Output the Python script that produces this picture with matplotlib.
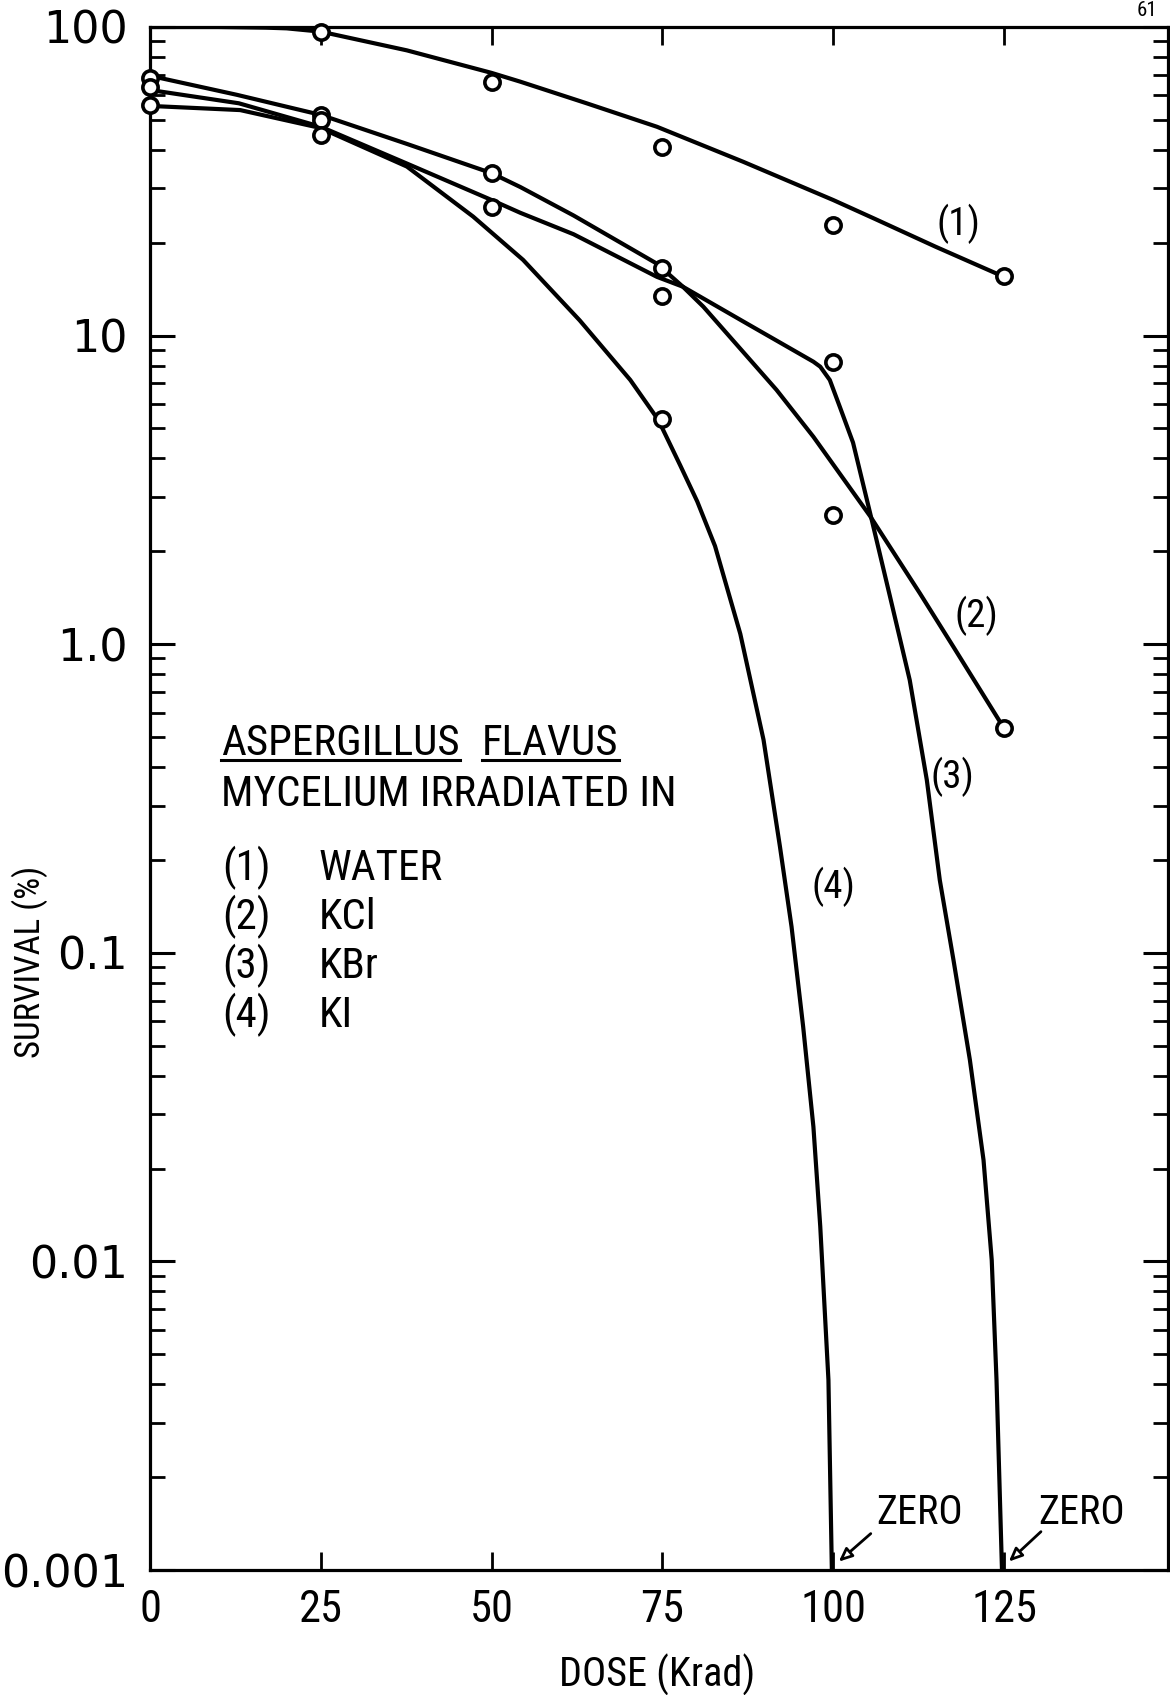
import matplotlib.pyplot as plt
from matplotlib import font_manager
from matplotlib.font_manager import FontProperties
from matplotlib.ticker import LogLocator, NullFormatter
from matplotlib.lines import Line2D


def narrow_font():
    # a narrow sans for the lettering; plain DejaVu Sans if none is installed
    entries = font_manager.fontManager.ttflist
    for f in entries:
        if f.name == 'Liberation Sans Narrow' and f.style == 'normal' and f.weight in (400, 'normal', 'regular'):
            return FontProperties(fname=f.fname), True
    for fam in ['Roboto Condensed', 'Open Sans Condensed', 'Roboto', 'Noto Sans', 'Open Sans', 'DejaVu Sans']:
        for f in entries:
            if (f.name == fam and f.style == 'normal' and f.stretch == 'condensed'
                    and f.weight in (400, 'normal', 'regular')):
                return FontProperties(fname=f.fname), True
    return FontProperties(family='DejaVu Sans'), False


narrow, found = narrow_font()
k = 1.0 if found else 0.88

# fitted survival curves (dose in Krad, survival in %)
water_dose = [0, 10, 17, 20, 25, 37.6, 50, 54.2, 63.9, 74.2, 86.8, 100, 105.9, 115, 125]
water_curve = [100, 100, 99.5, 99, 96.6, 84.0, 71.0, 66.5, 56.6, 47.5, 36.6, 27.5, 24.0, 19.4, 15.5]

kcl_dose = [0, 12.7, 25, 37.6, 50, 54.2, 62, 74.2, 78, 81, 91.7, 97.1, 105.4, 112.7, 117.6, 125]
kcl_curve = [69.5, 60.3, 51.9, 41.8, 33.6, 30.3, 24.5, 17.1, 14.4, 12.4, 6.67, 4.70, 2.6, 1.46, 0.98, 0.534]

kbr_dose = [0, 13, 25, 37.6, 50, 54.2, 62, 74.2, 78, 87.3, 97.1, 98.1, 99.5, 101, 102.9,
            105.4, 108.3, 111.2, 113.7, 115.6, 117.6, 120, 122, 123.2, 123.9, 124.7]
kbr_curve = [62.5, 56.6, 47.5, 36.1, 27.5, 25.0, 21.3, 15.5, 14.4, 10.96, 8.23, 7.93, 7.18, 5.85, 4.5,
             2.66, 1.43, 0.765, 0.363, 0.172, 0.0948, 0.045, 0.0213, 0.0101, 0.00413, 0.001]

ki_dose = [0, 13.2, 24.9, 37.6, 47.3, 54.6, 62.9, 70.3, 74.4, 77.6, 80.1, 82.7, 86.4, 89.8,
           92.2, 93.9, 95.6, 97.1, 98.1, 99.3, 99.8]
ki_curve = [55.5, 53.8, 47.1, 35.3, 24.3, 17.6, 11.2, 7.18, 5.33, 3.8, 2.9, 2.08, 1.08, 0.49,
            0.221, 0.1215, 0.0576, 0.0273, 0.013, 0.00413, 0.001]

# measured points
water_pts_dose = [25, 50, 75, 100, 125]
water_pts = [96.6, 66.5, 40.9, 22.8, 15.6]
kcl_pts_dose = [0, 25, 50, 75, 100, 125]
kcl_pts = [68.2, 51.9, 33.6, 16.5, 2.62, 0.534]
kbr_pts_dose = [0, 25, 50, 75, 100]
kbr_pts = [64.1, 50.0, 26.2, 13.4, 8.2]
ki_pts_dose = [0, 25, 75]
ki_pts = [55.8, 44.7, 5.36]

ytick_vals = [0.001, 0.01, 0.1, 1, 10, 100]
ytick_text = ['0.001', '0.01', '0.1', '1.0', '10', '100']
xtick_vals = [0, 25, 50, 75, 100, 125]

W, H = 1170, 1695
fig = plt.figure(figsize=(W / 100, H / 100), dpi=100)
ax = fig.add_axes([150 / W, 1 - 1570 / H, 1018 / W, 1543 / H])


def fig_xy(px, py):
    return px / W, 1 - py / H


def lettering(size):
    fp = narrow.copy()
    fp.set_size(size * k)
    return fp


for d, v in [(water_dose, water_curve), (kcl_dose, kcl_curve),
             (kbr_dose, kbr_curve), (ki_dose, ki_curve)]:
    ax.plot(d, v, color='black', lw=3.0, solid_capstyle='round', solid_joinstyle='round', zorder=3)

for d, v in [(water_pts_dose, water_pts), (kcl_pts_dose, kcl_pts),
             (kbr_pts_dose, kbr_pts), (ki_pts_dose, ki_pts)]:
    ax.plot(d, v, 'o', ms=11, mfc='white', mec='black', mew=2.6, zorder=4, clip_on=False)

ax.set_yscale('log')
ax.set_ylim(0.001, 100)
ax.set_xlim(0, 149)
ax.set_yticks(ytick_vals, labels=ytick_text)
ax.yaxis.set_minor_locator(LogLocator(base=10, subs=range(2, 10)))
ax.yaxis.set_minor_formatter(NullFormatter())
ax.set_xticks(xtick_vals)

ax.tick_params(axis='y', which='major', direction='in', length=18, width=2.2,
               labelsize=32, pad=16, left=True, right=True)
ax.tick_params(axis='y', which='minor', direction='in', length=11, width=2.0,
               left=True, right=True)
ax.tick_params(axis='x', which='major', direction='in', length=13, width=2.0,
               pad=14, top=True, bottom=True)
for lbl in ax.get_xticklabels():
    lbl.set_fontproperties(lettering(32))
for s in ax.spines.values():
    s.set_linewidth(2.3)

fig.text(*fig_xy(657, 1675), 'DOSE (Krad)', ha='center', va='center', fontproperties=lettering(29))
fig.text(*fig_xy(30, 962), 'SURVIVAL (%)', ha='center', va='center',
         rotation=90, fontproperties=lettering(25))

# curve numbers
for x, y, s in [(118.4, 23.0, '(1)'), (120.9, 1.234, '(2)'),
                (117.5, 0.372, '(3)'), (100.1, 0.163, '(4)')]:
    ax.text(x, y, s, ha='center', va='center', fontproperties=lettering(28))

# zero survival markers
for tip, tail, lab in [((100.5, 0.00105), (105.8, 0.00133), (112.7, 0.00154)),
                       ((125.4, 0.00105), (130.7, 0.00135), (136.4, 0.00154))]:
    ax.annotate('', xy=tip, xytext=tail,
                arrowprops=dict(arrowstyle='-|>,head_length=0.8,head_width=0.35',
                                fc='white', ec='black', lw=2.0), annotation_clip=False)
    ax.text(lab[0], lab[1], 'ZERO', ha='center', va='center', fontproperties=lettering(29))

# key block
key = lettering(31)
base = 755
t_asp = fig.text(*fig_xy(221, base), 'ASPERGILLUS', ha='left', va='baseline', fontproperties=key)
fig.canvas.draw()
renderer = fig.canvas.get_renderer()
asp_end = t_asp.get_window_extent(renderer).x1
t_fla = fig.text(*fig_xy(max(482, asp_end + 16), base), 'FLAVUS', ha='left', va='baseline',
                 fontproperties=key)
fig.text(*fig_xy(221, 806), 'MYCELIUM IRRADIATED IN', ha='left', va='baseline', fontproperties=key)
rows = [('(1)', 'WATER'), ('(2)', 'KCl'), ('(3)', 'KBr'), ('(4)', 'KI')]
for i, (num, name) in enumerate(rows):
    yb = 880 + 49 * i
    fig.text(*fig_xy(222, yb), num, ha='left', va='baseline', fontproperties=key)
    fig.text(*fig_xy(319, yb), name, ha='left', va='baseline', fontproperties=key)

fig.text(*fig_xy(1147, 1), '61', ha='center', va='top', fontproperties=lettering(15))

fig.canvas.draw()
for t in (t_asp, t_fla):
    bb = t.get_window_extent(renderer)
    y = 1 - (base + 5) / H
    fig.add_artist(Line2D([bb.x0 / W, bb.x1 / W], [y, y], color='black', lw=2.2))

fig.savefig('out.png', dpi=100)
